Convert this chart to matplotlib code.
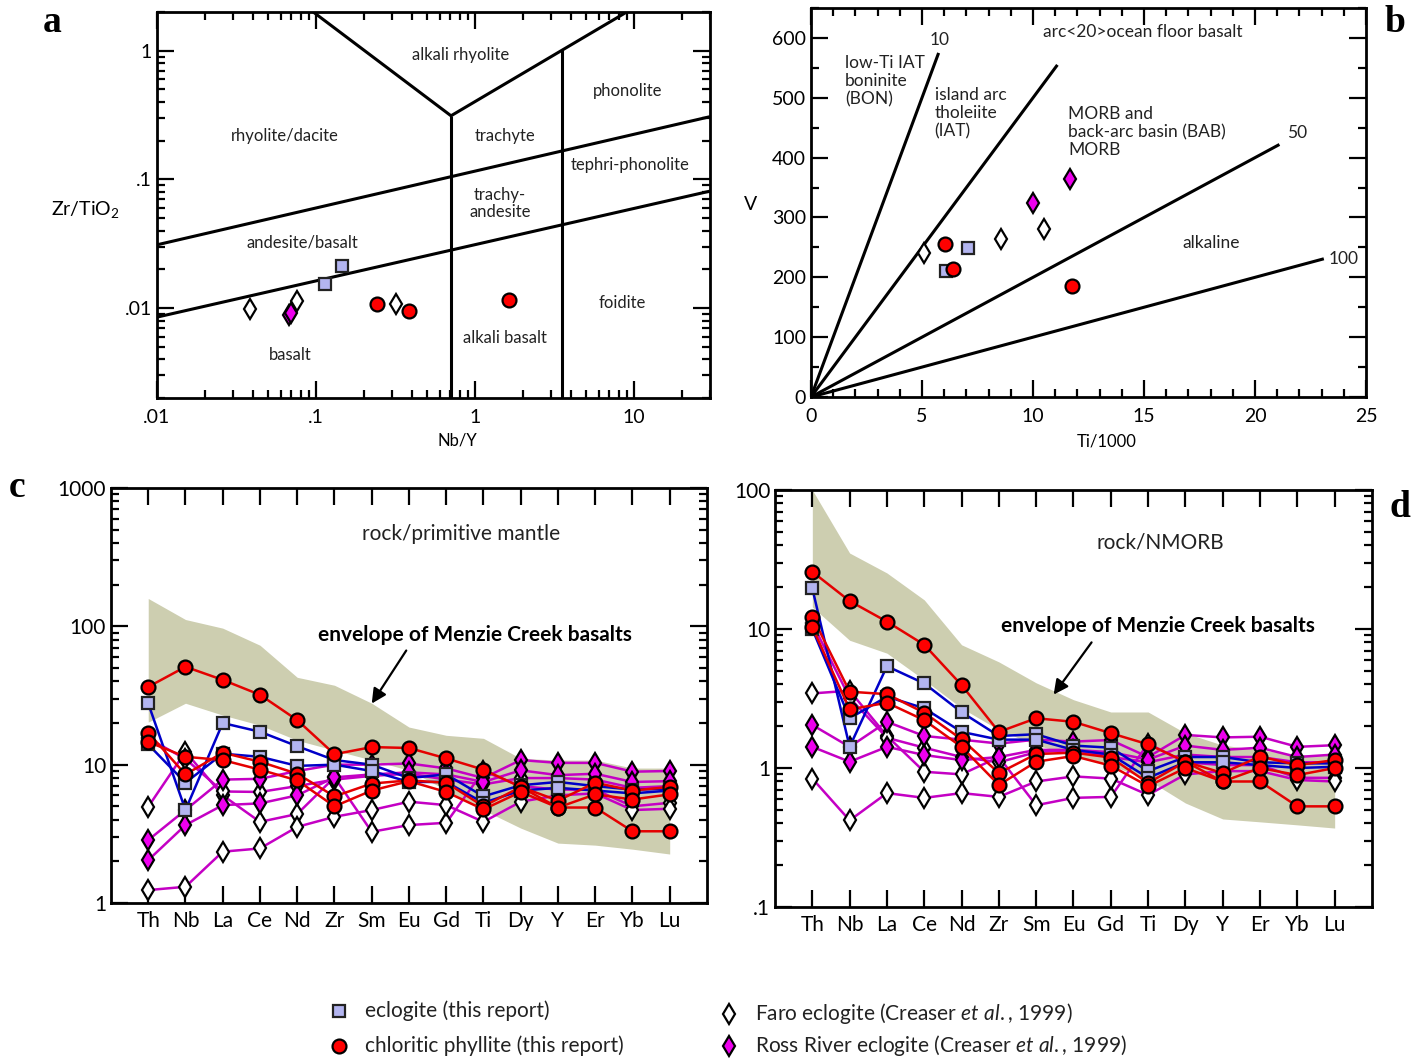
import matplotlib
matplotlib.use("Agg")
import matplotlib.pyplot as plt
from matplotlib.lines import Line2D
from matplotlib.ticker import LogLocator, NullFormatter

plt.rcParams["font.family"] = ["Lato", "DejaVu Sans"]
plt.rcParams["mathtext.fontset"] = "custom"
plt.rcParams["mathtext.rm"] = "Lato"
plt.rcParams["mathtext.it"] = "Lato:italic"

# ---------------------------------------------------------------------------
# data
# ---------------------------------------------------------------------------

# panel a: Nb/Y vs Zr/TiO2
a_ecl_nby = [0.114, 0.146]
a_ecl_zr = [0.0153, 0.0211]
a_phy_nby = [0.242, 0.385, 1.64]
a_phy_zr = [0.0107, 0.0095, 0.0115]
a_faro_nby = [0.0385, 0.076, 0.318]
a_faro_zr = [0.0098, 0.0113, 0.0107]
a_ross_nby = [0.0676, 0.0697]
a_ross_zr = [0.0088, 0.0092]

# panel b: Ti/1000 vs V
b_ecl_ti = [6.07, 7.09]
b_ecl_v = [210, 249]
b_phy_ti = [6.04, 6.41, 11.74]
b_phy_v = [256, 214, 186]
b_faro_ti = [5.09, 8.55, 10.5]
b_faro_v = [240, 264, 281]
b_ross_ti = [10.0, 11.67]
b_ross_v = [324, 365]
b_ratios = [10, 20, 50, 100]
b_line_end = [5.75, 11.1, 21.1, 23.1]

# spider diagrams
elements = ["Th", "Nb", "La", "Ce", "Nd", "Zr", "Sm", "Eu", "Gd", "Ti",
            "Dy", "Y", "Er", "Yb", "Lu"]

# c: rock / primitive mantle
c_env_hi = [159, 112, 97, 73, 42.8, 37.5, 27.8, 18.7, 16.3, 15.5, 11.1, 10.8, 10.8, 9.45, 9.45]
c_env_lo = [20.3, 27.8, 22.8, 19.3, 15.0, 12.7, 10.8, 9.1, 6.55, 4.7, 3.48, 2.71, 2.62, 2.45, 2.26]
c_ecl = [
    [27.7, 4.7, 20.0, 17.3, 13.6, 10.8, 10.0, 8.0, 8.5, 5.9, 7.1, 7.5, 7.0, 6.6, 6.7],
    [14.0, 7.4, 12.0, 11.4, 9.8, 10.0, 9.0, 7.5, 7.5, 5.3, 6.5, 6.8, 6.5, 6.2, 6.5],
]
c_phy = [
    [36.5, 51.0, 41.0, 32.0, 21.0, 11.9, 13.4, 13.2, 11.1, 9.2, 6.9, 4.9, 4.9, 3.3, 3.3],
    [17.0, 8.5, 12.2, 10.5, 8.6, 5.9, 7.3, 7.7, 7.4, 5.0, 6.9, 5.5, 7.4, 6.5, 6.9],
    [14.6, 11.4, 10.8, 9.2, 7.7, 5.0, 6.5, 7.6, 6.35, 4.75, 6.35, 4.9, 6.1, 5.6, 6.1],
]
c_faro = [
    [4.96, 12.4, 6.0, 3.86, 4.4, 8.1, 3.27, 3.66, 3.8, 9.0, 7.0, 6.6, 6.6, 5.0, 5.3],
    [1.24, 1.31, 2.35, 2.48, 3.55, 4.2, 4.7, 5.4, 5.1, 3.86, 5.4, 6.0, 6.2, 4.7, 4.8],
    [15.5, 11.0, 6.4, 6.35, 7.0, 7.8, 8.3, 8.6, 7.8, 7.2, 8.0, 8.0, 7.8, 6.8, 7.0],
]
c_ross = [
    [2.85, 4.7, 7.8, 7.9, 9.0, 10.0, 10.0, 10.2, 9.4, 8.0, 10.8, 10.3, 10.3, 8.9, 9.0],
    [2.04, 3.66, 5.1, 5.25, 6.0, 8.1, 8.5, 8.8, 8.5, 7.5, 9.1, 8.4, 8.6, 7.5, 7.6],
]

# d: rock / NMORB
d_env_hi = [100, 35.2, 25.3, 16.2, 7.7, 5.8, 4.1, 3.1, 2.53, 2.53, 1.785, 1.46, 1.35, 1.24, 1.24]
d_env_lo = [14.4, 8.3, 6.7, 4.3, 2.7, 1.88, 1.46, 1.24, 1.05, 0.82, 0.56, 0.43, 0.41, 0.39, 0.37]
d_ecl = [
    [19.6, 1.42, 5.4, 4.06, 2.52, 1.7, 1.75, 1.45, 1.4, 0.95, 1.2, 1.2, 1.1, 1.08, 1.08],
    [10.0, 2.28, 3.26, 2.69, 1.82, 1.6, 1.6, 1.35, 1.25, 0.85, 1.1, 1.1, 1.05, 1.0, 1.02],
]
d_phy = [
    [25.8, 15.9, 11.3, 7.7, 3.95, 1.82, 2.28, 2.15, 1.78, 1.48, 1.11, 0.80, 0.80, 0.53, 0.53],
    [12.3, 3.54, 3.4, 2.5, 1.61, 0.92, 1.26, 1.29, 1.19, 0.78, 1.11, 0.92, 1.21, 1.05, 1.14],
    [10.3, 2.64, 2.95, 2.21, 1.42, 0.755, 1.11, 1.22, 1.04, 0.74, 1.0, 0.80, 1.0, 0.89, 1.0],
]
d_faro = [
    [3.44, 3.6, 1.7, 0.94, 0.9, 1.2, 0.54, 0.61, 0.62, 1.5, 1.1, 1.05, 1.05, 0.85, 0.85],
    [0.84, 0.42, 0.66, 0.61, 0.66, 0.62, 0.80, 0.87, 0.84, 0.64, 0.9, 0.95, 0.95, 0.82, 0.80],
    [11.0, 3.2, 1.65, 1.4, 1.2, 1.1, 1.3, 1.35, 1.2, 1.1, 1.25, 1.2, 1.2, 1.1, 1.1],
]
d_ross = [
    [2.04, 1.42, 2.15, 1.7, 1.6, 1.5, 1.6, 1.55, 1.59, 1.2, 1.73, 1.66, 1.68, 1.42, 1.46],
    [1.42, 1.11, 1.42, 1.24, 1.14, 1.2, 1.35, 1.35, 1.3, 1.15, 1.45, 1.35, 1.4, 1.2, 1.25],
]

# ---------------------------------------------------------------------------
# styles
# ---------------------------------------------------------------------------

ENV = "#cdceb0"
sty_ecl = dict(marker="s", ms=9, mfc="#b3b5f0", mec="#222222", mew=1.6)
sty_phy = dict(marker="o", ms=10, mfc="#ff0000", mec="black", mew=1.6)
sty_faro = dict(marker="d", ms=10, mfc="white", mec="black", mew=1.6)
sty_ross = dict(marker="d", ms=10, mfc="#ee00ee", mec="black", mew=1.6)
line_ecl = "#0000c8"
line_phy = "#e40000"
line_dia = "#c400c4"


def frame(ax, labelsize=14):
    for s in ax.spines.values():
        s.set_linewidth(2)
    ax.tick_params(which="both", direction="in", top=True, right=True,
                   width=1.6, labelsize=labelsize)
    ax.tick_params(which="major", length=12)
    ax.tick_params(which="minor", length=6)


def log_minor(axis):
    axis.set_minor_locator(LogLocator(base=10, subs=range(2, 10), numticks=20))
    axis.set_minor_formatter(NullFormatter())


fig = plt.figure(figsize=(14.21, 10.59), dpi=100)

# ---------------------------------------------------------------------------
# a
# ---------------------------------------------------------------------------
ax = fig.add_axes([0.1105, 0.6242, 0.3891, 0.3645])
ax.set_xscale("log")
ax.set_yscale("log")
ax.set_xlim(0.01, 30)
ax.set_ylim(0.002, 2)
kw = dict(color="black", lw=2.2, solid_capstyle="butt")
ax.plot([0.01, 30], [0.031, 0.307], **kw)
ax.plot([0.01, 30], [0.0085, 0.081], **kw)
ax.plot([0.096, 0.706, 9.0], [2.0, 0.312, 2.0], **kw)
ax.plot([0.706, 0.706], [0.002, 0.312], **kw)
ax.plot([3.52, 3.52], [0.002, 1.01], **kw)
ax.plot(a_faro_nby, a_faro_zr, ls="none", **sty_faro)
ax.plot(a_ross_nby, a_ross_zr, ls="none", **sty_ross)
ax.plot(a_ecl_nby, a_ecl_zr, ls="none", **sty_ecl)
ax.plot(a_phy_nby, a_phy_zr, ls="none", **sty_phy)
labels_a = [
    ("alkali rhyolite", 0.550, 0.889), ("rhyolite/dacite", 0.231, 0.679),
    ("trachyte", 0.629, 0.679), ("phonolite", 0.852, 0.795),
    ("tephri-phonolite", 0.855, 0.604), ("trachy-\nandesite", 0.620, 0.503),
    ("andesite/basalt", 0.262, 0.402), ("foidite", 0.841, 0.246),
    ("alkali basalt", 0.629, 0.155), ("basalt", 0.241, 0.111),
]
for txt, x, y in labels_a:
    ax.text(x, y, txt, transform=ax.transAxes, ha="center", va="center",
            fontsize=12, color="#222222", linespacing=1.1)
frame(ax)
ax.set_xticks([0.01, 0.1, 1, 10])
ax.set_xticklabels([".01", ".1", "1", "10"])
ax.set_yticks([0.01, 0.1, 1])
ax.set_yticklabels([".01", ".1", "1"])
log_minor(ax.xaxis)
log_minor(ax.yaxis)
ax.tick_params(axis="x", pad=8)
fig.text(0.0598, 0.802, "Zr/TiO$_2$", ha="center", va="center", fontsize=14)
fig.text(0.322, 0.5845, "Nb/Y", ha="center", va="center", fontsize=12)

# ---------------------------------------------------------------------------
# b
# ---------------------------------------------------------------------------
ax = fig.add_axes([0.5707, 0.6251, 0.3906, 0.3673])
ax.set_xlim(0, 25)
ax.set_ylim(0, 650)
for r, xe in zip(b_ratios, b_line_end):
    ax.plot([0, xe], [0, xe * 1000 / r], color="black", lw=2.2,
            solid_capstyle="butt")
ax.plot(b_faro_ti, b_faro_v, ls="none", **sty_faro)
ax.plot(b_ross_ti, b_ross_v, ls="none", **sty_ross)
ax.plot(b_ecl_ti, b_ecl_v, ls="none", **sty_ecl)
ax.plot(b_phy_ti, b_phy_v, ls="none", **sty_phy)
labels_b = [
    ("10", 0.232, 0.918, "center"), ("arc<20>ocean floor basalt", 0.598, 0.938, "center"),
    ("low-Ti IAT\nboninite\n(BON)", 0.061, 0.812, "left"),
    ("island arc\ntholeiite\n(IAT)", 0.223, 0.730, "left"),
    ("MORB and\nback-arc basin (BAB)\nMORB", 0.463, 0.681, "left"),
    ("50", 0.876, 0.679, "center"), ("alkaline", 0.721, 0.396, "center"),
    ("100", 0.959, 0.355, "center"),
]
for txt, x, y, ha in labels_b:
    ax.text(x, y, txt, transform=ax.transAxes, ha=ha, va="center",
            fontsize=12.5, color="#222222", linespacing=1.15)
frame(ax)
ax.set_xticks(range(0, 26, 5))
ax.set_yticks(range(0, 601, 100))
ax.set_xticks(range(0, 26), minor=True)
ax.set_yticks(range(0, 651, 50), minor=True)
ax.tick_params(axis="x", pad=8)
fig.text(0.5285, 0.807, "V", ha="center", va="center", fontsize=14)
fig.text(0.779, 0.583, "Ti/1000", ha="center", va="center", fontsize=12)


# ---------------------------------------------------------------------------
# c and d
# ---------------------------------------------------------------------------
def spider(ax, env_lo, env_hi, ecl, phy, faro, ross):
    xs = list(range(len(elements)))
    ax.fill_between(xs, env_lo, env_hi, color=ENV, lw=0, zorder=1)
    for s in faro:
        ax.plot(xs, s, color=line_dia, lw=1.8, zorder=2, **sty_faro)
    for s in ross:
        ax.plot(xs, s, color=line_dia, lw=1.8, zorder=3, **sty_ross)
    for s in ecl:
        ax.plot(xs, s, color=line_ecl, lw=1.8, zorder=4, **sty_ecl)
    for s in phy:
        ax.plot(xs, s, color=line_phy, lw=1.8, zorder=5, **sty_phy)
    ax.set_yscale("log")
    ax.set_xlim(-1, 15)
    frame(ax, labelsize=15)
    ax.set_xticks(xs)
    ax.set_xticklabels(elements)
    log_minor(ax.yaxis)
    ax.tick_params(axis="x", pad=6)


ax = fig.add_axes([0.0781, 0.1473, 0.4194, 0.3919])
spider(ax, c_env_lo, c_env_hi, c_ecl, c_phy, c_faro, c_ross)
ax.set_ylim(1, 1000)
ax.set_yticks([1, 10, 100, 1000])
ax.set_yticklabels(["1", "10", "100", "1000"])
ax.text(0.587, 0.889, "rock/primitive mantle", transform=ax.transAxes,
        ha="center", va="center", fontsize=15, color="#222222")
ax.text(0.611, 0.646, "envelope of Menzie Creek basalts", transform=ax.transAxes,
        ha="center", va="center", fontsize=15, fontweight="bold")
ax.annotate("", xy=(0.435, 0.475), xytext=(0.498, 0.614), xycoords="axes fraction",
            arrowprops=dict(arrowstyle="-|>", color="black", lw=1.6,
                            mutation_scale=22), zorder=6)

ax = fig.add_axes([0.5454, 0.1435, 0.4201, 0.3938])
spider(ax, d_env_lo, d_env_hi, d_ecl, d_phy, d_faro, d_ross)
ax.set_ylim(0.1, 100)
ax.set_yticks([0.1, 1, 10, 100])
ax.set_yticklabels([".1", "1", "10", "100"])
ax.text(0.645, 0.875, "rock/NMORB", transform=ax.transAxes,
        ha="center", va="center", fontsize=15, color="#222222")
ax.text(0.642, 0.674, "envelope of Menzie Creek basalts", transform=ax.transAxes,
        ha="center", va="center", fontsize=15, fontweight="bold")
ax.annotate("", xy=(0.464, 0.504), xytext=(0.533, 0.640), xycoords="axes fraction",
            arrowprops=dict(arrowstyle="-|>", color="black", lw=1.6,
                            mutation_scale=22), zorder=6)

# panel letters
for letter, x, y in [("a", 0.0366, 0.979), ("b", 0.9817, 0.979),
                     ("c", 0.012, 0.540), ("d", 0.985, 0.521)]:
    fig.text(x, y, letter, ha="center", va="center", fontsize=27,
             fontweight="bold", family="Liberation Serif")

# legend
legend_items = [
    (0.2386, 0.0453, sty_ecl, "eclogite (this report)"),
    (0.2386, 0.0123, sty_phy, "chloritic phyllite (this report)"),
    (0.5130, 0.0425, sty_faro, r"Faro eclogite (Creaser $\mathit{et\ al.{,}\ 1999}$)"),
    (0.5130, 0.0123, sty_ross, r"Ross River eclogite (Creaser $\mathit{et\ al.{,}\ 1999}$)"),
]
for x, y, st, txt in legend_items:
    fig.add_artist(Line2D([x], [y], transform=fig.transFigure, ls="none", **st))
    fig.text(x + 0.0185, y, txt, ha="left", va="center", fontsize=15,
             color="#222222")

fig.savefig("out.png", dpi=100)
